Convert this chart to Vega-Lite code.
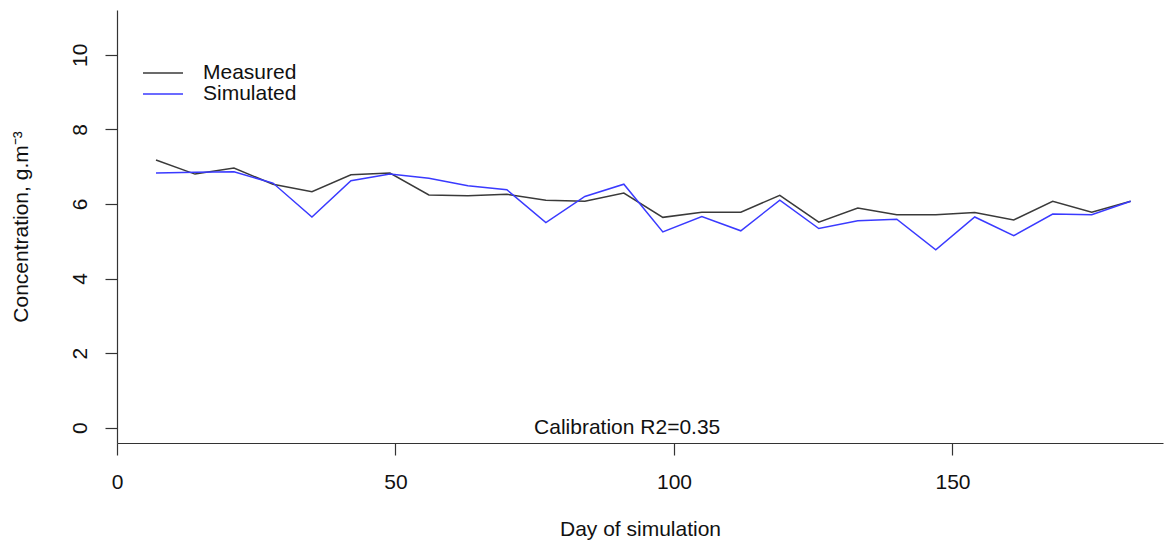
{
  "$schema": "https://vega.github.io/schema/vega-lite/v6.json",
  "autosize": {"type": "none"},
  "width": 1046,
  "height": 433,
  "padding": {"left": 117, "top": 10, "right": 2, "bottom": 102},
  "background": "white",
  "config": {
    "view": {"stroke": null},
    "font": "Liberation Sans",
    "axis": {"grid": false, "domainColor": "#333333", "tickColor": "#333333", "labelColor": "#111111", "titleColor": "#111111", "labelFont": "Liberation Sans", "titleFont": "Liberation Sans", "titleFontWeight": "normal", "labelFontSize": 21, "titleFontSize": 21, "tickSize": 12, "domainWidth": 1.2, "tickWidth": 1.2}
  },
  "datasets": {
    "series": [
      {"day": 7, "value": 7.18, "series": "Measured"},
      {"day": 14, "value": 6.80, "series": "Measured"},
      {"day": 21, "value": 6.96, "series": "Measured"},
      {"day": 28, "value": 6.53, "series": "Measured"},
      {"day": 35, "value": 6.33, "series": "Measured"},
      {"day": 42, "value": 6.78, "series": "Measured"},
      {"day": 49, "value": 6.83, "series": "Measured"},
      {"day": 56, "value": 6.24, "series": "Measured"},
      {"day": 63, "value": 6.22, "series": "Measured"},
      {"day": 70, "value": 6.26, "series": "Measured"},
      {"day": 77, "value": 6.10, "series": "Measured"},
      {"day": 84, "value": 6.07, "series": "Measured"},
      {"day": 91, "value": 6.29, "series": "Measured"},
      {"day": 98, "value": 5.64, "series": "Measured"},
      {"day": 105, "value": 5.78, "series": "Measured"},
      {"day": 112, "value": 5.78, "series": "Measured"},
      {"day": 119, "value": 6.23, "series": "Measured"},
      {"day": 126, "value": 5.51, "series": "Measured"},
      {"day": 133, "value": 5.89, "series": "Measured"},
      {"day": 140, "value": 5.71, "series": "Measured"},
      {"day": 147, "value": 5.71, "series": "Measured"},
      {"day": 154, "value": 5.77, "series": "Measured"},
      {"day": 161, "value": 5.57, "series": "Measured"},
      {"day": 168, "value": 6.07, "series": "Measured"},
      {"day": 175, "value": 5.78, "series": "Measured"},
      {"day": 182, "value": 6.07, "series": "Measured"},
      {"day": 7, "value": 6.83, "series": "Simulated"},
      {"day": 14, "value": 6.85, "series": "Simulated"},
      {"day": 21, "value": 6.86, "series": "Simulated"},
      {"day": 28, "value": 6.56, "series": "Simulated"},
      {"day": 35, "value": 5.65, "series": "Simulated"},
      {"day": 42, "value": 6.62, "series": "Simulated"},
      {"day": 49, "value": 6.80, "series": "Simulated"},
      {"day": 56, "value": 6.69, "series": "Simulated"},
      {"day": 63, "value": 6.49, "series": "Simulated"},
      {"day": 70, "value": 6.38, "series": "Simulated"},
      {"day": 77, "value": 5.50, "series": "Simulated"},
      {"day": 84, "value": 6.20, "series": "Simulated"},
      {"day": 91, "value": 6.53, "series": "Simulated"},
      {"day": 98, "value": 5.25, "series": "Simulated"},
      {"day": 105, "value": 5.66, "series": "Simulated"},
      {"day": 112, "value": 5.28, "series": "Simulated"},
      {"day": 119, "value": 6.10, "series": "Simulated"},
      {"day": 126, "value": 5.34, "series": "Simulated"},
      {"day": 133, "value": 5.55, "series": "Simulated"},
      {"day": 140, "value": 5.59, "series": "Simulated"},
      {"day": 147, "value": 4.77, "series": "Simulated"},
      {"day": 154, "value": 5.65, "series": "Simulated"},
      {"day": 161, "value": 5.15, "series": "Simulated"},
      {"day": 168, "value": 5.73, "series": "Simulated"},
      {"day": 175, "value": 5.71, "series": "Simulated"},
      {"day": 182, "value": 6.07, "series": "Simulated"}
    ],
    "note": [{"label": "Calibration R2=0.35"}]
  },
  "layer": [
    {
      "data": {"name": "series"},
      "mark": {"type": "line", "strokeWidth": 1.5},
      "encoding": {
        "x": {
          "field": "day", "type": "quantitative",
          "scale": {"domain": [0, 187.8], "nice": false, "zero": false},
          "axis": {"values": [0, 50, 100, 150], "title": "Day of simulation", "labelPadding": 16, "titlePadding": 26, "domain": true, "labelFlush": false}
        },
        "y": {
          "field": "value", "type": "quantitative",
          "scale": {"domain": [-0.41, 11.2], "nice": false, "zero": false},
          "axis": {"values": [0, 2, 4, 6, 8, 10], "title": "Concentration, g.m⁻³", "labelAngle": -90, "labelAlign": "center", "labelBaseline": "bottom", "labelPadding": 15, "titlePadding": 38, "domain": true, "labelFlush": false}
        },
        "color": {
          "field": "series", "type": "nominal",
          "scale": {"domain": ["Measured", "Simulated"], "range": ["#3a3a3a", "#3a3aff"]},
          "legend": {
            "title": null, "orient": "none", "legendX": 35, "legendY": 52,
            "symbolType": "M-2,0H2", "symbolSize": 400, "symbolStrokeWidth": 1.5, "symbolFillColor": "transparent",
            "labelFontSize": 21, "labelFont": "Liberation Sans", "labelColor": "#111111",
            "labelOffset": 29, "rowPadding": 0, "padding": 0
          }
        }
      }
    },
    {
      "mark": {"type": "rule", "color": "#333333", "strokeWidth": 1.2},
      "encoding": {"y": {"datum": 11.2}}
    },
    {
      "data": {"name": "note"},
      "mark": {"type": "text", "fontSize": 21, "font": "Liberation Sans", "color": "#111111", "align": "center", "baseline": "middle"},
      "encoding": {
        "x": {"datum": 91.6},
        "y": {"datum": 0},
        "text": {"field": "label"}
      }
    }
  ]
}
